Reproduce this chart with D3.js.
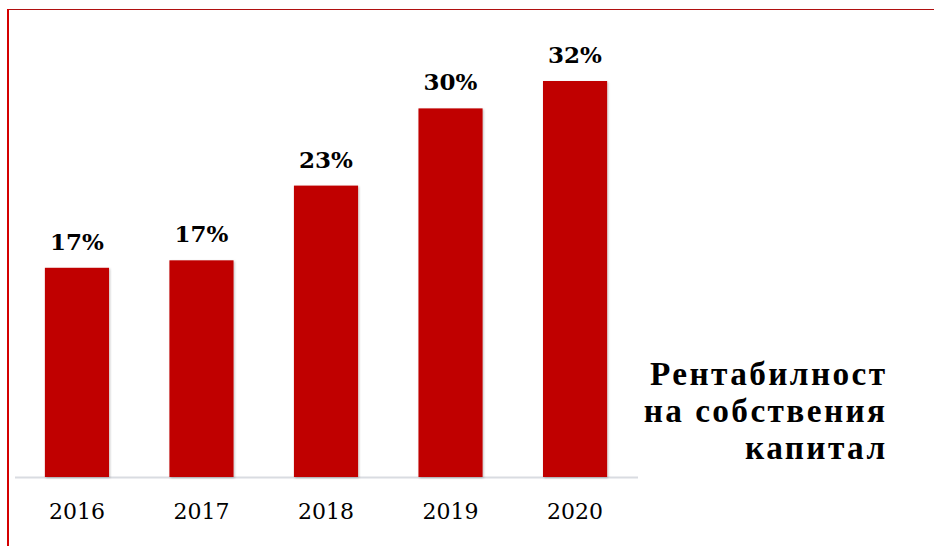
<!DOCTYPE html>
<html><head><meta charset="utf-8">
<script src="https://cdn.jsdelivr.net/npm/d3@7"></script>
<style>html,body{margin:0;padding:0;background:#fff;}svg{display:block;}</style>
</head><body>
<svg id="c" width="934" height="546"></svg>
<script>
const years = ["2016","2017","2018","2019","2020"];
const roe = [0.168, 0.174, 0.234, 0.296, 0.318];
const titleLines = ["Рентабилност","на собствения","капитал"];

const svg = d3.select("#c");
const W = 934, H = 546;
const baseY = 477, topY = 81;
const x = d3.scaleBand().domain(years).range([15, 637]).paddingInner(0.485).paddingOuter(0.24);
const y = d3.scaleLinear().domain([0, 0.318]).range([baseY, topY]);

const defs = svg.append("defs");
const f = defs.append("filter").attr("id","sh").attr("x","-20%").attr("y","-20%").attr("width","140%").attr("height","140%");
f.append("feDropShadow").attr("dx",1).attr("dy",1).attr("stdDeviation",1.2).attr("flood-color","#000").attr("flood-opacity",0.25);

// frame
svg.append("line").attr("x1",7).attr("x2",W).attr("y1",9.5).attr("y2",9.5).attr("stroke","#B01010").attr("stroke-width",1.2);
svg.append("line").attr("x1",8).attr("x2",8).attr("y1",9).attr("y2",H).attr("stroke","#D40000").attr("stroke-width",2);

// baseline
svg.append("line").attr("x1",15).attr("x2",638).attr("y1",baseY+0.5).attr("y2",baseY+0.5).attr("stroke","#D9DCE1").attr("stroke-width",2);

// bars
svg.selectAll("rect.bar").data(years).join("rect").attr("class","bar")
  .attr("x", d => x(d)).attr("width", x.bandwidth())
  .attr("y", (d,i) => y(roe[i])).attr("height", (d,i) => baseY - y(roe[i]))
  .attr("fill","#C00000").attr("filter","url(#sh)");

// value labels
svg.selectAll("text.val").data(years).join("text").attr("class","val")
  .attr("x", d => x(d) + x.bandwidth()/2).attr("y", (d,i) => y(roe[i]) - 18)
  .attr("text-anchor","middle").attr("font-family","DejaVu Serif").attr("font-weight","bold")
  .attr("font-size",23).attr("fill","#000")
  .text((d,i) => Math.round(roe[i]*100) + "%");

// axis
const ax = svg.append("g").attr("transform",`translate(0,${baseY})`)
  .call(d3.axisBottom(x).tickSize(0).tickPadding(0));
ax.select(".domain").remove();
ax.selectAll("text").attr("y", 42).attr("dy", 0)
  .attr("font-family","DejaVu Serif").attr("font-size",22).attr("fill","#000");

// title (separate lines)
svg.selectAll("text.ttl").data(titleLines).join("text").attr("class","ttl")
  .attr("x", 887.5).attr("y", (d,i) => 385 + i*37)
  .attr("text-anchor","end").attr("font-family","Liberation Serif")
  .attr("font-weight","bold").attr("font-size",33.3).attr("letter-spacing","2.4px")
  .attr("fill","#000").text(d => d);
</script>
</body></html>
